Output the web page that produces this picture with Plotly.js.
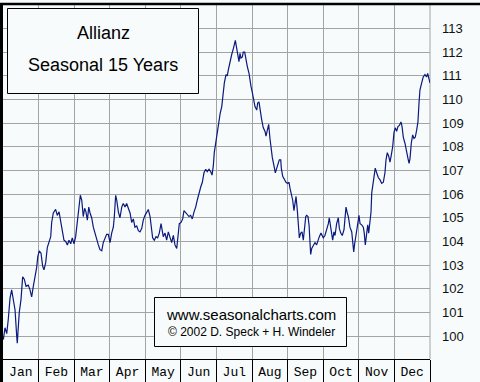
<!DOCTYPE html>
<html><head><meta charset="utf-8">
<script src="https://cdn.plot.ly/plotly-3.0.1.min.js"></script>
<style>html,body{margin:0;padding:0;background:#f7fbfb;}#chart{width:480px;height:382px;}</style>
</head><body><div id="chart"></div>
<script>
const months = ["Jan","Feb","Mar","Apr","May","Jun","Jul","Aug","Sep","Oct","Nov","Dec"];
const yTicks = [100,101,102,103,104,105,106,107,108,109,110,111,112,113];
const titleLines = ["Allianz", "Seasonal 15 Years"];
const creditLines = ["www.seasonalcharts.com", "© 2002 D. Speck + H. Windeler"];
const days = [0,0.3,1.7,3.2,4.5,6.0,7.4,8.8,10.3,11.7,12.2,13.9,15.4,16.8,18.2,19.7,21.6,23.1,24.5,25.9,27.4,28.8,29.7,31.0,32.5,33.9,35.0,36.5,37.9,39.6,40.8,41.6,43.0,45.0,46.4,47.9,49.3,50.7,52.1,53.6,55.0,56.4,57.9,59.2,60.7,62.1,63.5,65.0,66.1,67.3,68.6,69.8,70.9,72.1,73.3,74.4,75.8,77.2,78.6,80.1,81.5,82.9,84.4,85.7,87.2,88.6,90.0,91.5,92.9,94.3,95.1,96.3,97.2,98.6,100.0,101.5,102.8,104.3,105.7,107.1,108.6,110.0,111.4,112.8,114.3,115.7,117.1,118.6,119.9,121.4,122.8,124.2,125.7,127.1,127.9,129.3,130.8,132.2,133.6,135.1,135.9,137.0,138.5,139.9,141.3,142.8,144.2,145.6,147.0,148.5,149.6,150.7,152.2,153.6,154.7,156.2,157.5,159.0,160.4,161.8,163.3,164.7,166.1,167.5,169.0,170.4,171.8,173.3,174.6,176.1,177.5,178.7,179.8,180.6,182.1,183.2,184.7,185.6,187.0,187.8,189.2,190.6,191.7,192.6,194.0,195.5,196.9,197.7,198.6,199.8,200.6,201.7,202.6,203.4,204.6,205.4,206.6,207.7,208.8,210.3,211.1,212.0,213.1,214.0,215.4,216.9,217.7,218.8,219.7,221.1,222.5,224.0,224.8,225.9,227.1,228.2,229.1,230.2,231.6,232.8,234.0,235.1,236.2,237.4,237.9,239.1,240.5,241.9,243.4,244.5,245.3,246.4,247.6,248.7,249.6,250.5,251.6,252.4,253.3,254.5,255.6,256.7,257.6,258.8,259.6,260.7,261.6,262.4,263.0,263.9,265.2,266.7,268.1,269.2,270.4,271.8,272.9,273.8,275.2,276.7,278.1,278.9,280.1,280.9,281.8,282.9,283.8,285.2,286.6,287.5,288.7,290.0,291.5,292.3,293.2,294.3,295.2,296.6,298.1,298.9,299.8,300.6,301.7,302.8,304.3,305.2,306.6,308.0,308.8,309.7,310.9,311.8,312.6,313.7,314.6,315.2,316.0,317.4,318.2,319.4,320.8,322.3,323.7,325.1,326.5,327.4,328.5,329.7,330.8,331.9,333.1,334.2,335.3,336.5,337.6,338.8,340.2,341.1,342.2,343.6,345.1,346.2,347.1,347.9,349.0,350.2,351.3,352.4,353.6,354.7,355.6,356.4,357.9,359.2,360.7,362.1,363.0,364.1,365.0];
const values = [100.0,99.85,100.35,100.1,100.7,101.6,101.95,101.5,101.1,100.0,99.7,101.0,101.55,102.5,102.4,102.1,102.15,101.95,101.65,102.1,102.5,102.9,103.35,103.6,103.5,102.95,102.8,103.1,103.75,104.0,104.2,104.8,105.2,105.35,105.1,105.25,104.9,104.5,104.05,104.0,103.85,104.05,103.9,104.15,103.9,104.2,104.9,105.45,105.95,105.75,105.05,105.4,105.25,104.9,105.45,105.2,105.0,104.6,104.35,104.0,103.85,103.65,103.6,103.95,104.1,104.3,104.3,103.95,104.35,104.6,105.0,105.95,105.75,105.25,105.0,105.45,105.6,105.45,105.6,105.4,105.2,104.8,104.95,104.6,104.65,104.45,104.4,104.55,104.9,105.1,105.25,105.35,105.05,104.6,104.15,104.05,104.2,104.15,104.35,104.75,104.45,104.2,104.35,104.05,104.4,104.2,103.95,104.25,103.85,103.7,104.2,104.75,104.8,104.95,105.3,105.2,105.1,105.05,105.1,104.95,105.25,105.45,105.75,106.05,106.3,106.5,106.9,107.05,106.95,107.05,106.95,106.8,107.2,107.75,108.3,108.6,109.25,109.4,109.7,110.15,110.7,111.05,111.0,111.25,111.6,111.9,112.15,112.4,112.5,112.15,111.9,111.6,111.95,111.75,111.8,112.0,112.0,111.65,111.4,111.1,110.8,110.55,110.3,110.0,109.7,109.55,109.85,109.9,109.55,109.15,108.8,108.65,108.45,108.75,108.95,108.35,107.85,107.55,107.2,106.9,107.1,107.3,107.45,107.45,107.1,106.75,106.6,106.5,106.45,106.5,106.25,106.05,105.75,105.3,105.6,105.9,105.3,104.5,104.15,104.35,104.4,104.05,104.5,105.05,105.1,105.05,104.7,103.95,103.45,103.7,103.85,103.95,103.85,104.05,104.2,104.35,104.2,104.15,104.25,104.5,104.75,105.0,104.6,104.25,104.05,104.4,104.25,104.75,105.0,104.55,104.35,104.25,104.5,104.95,105.45,105.2,105.05,104.6,104.4,104.0,103.55,103.9,104.35,104.6,105.1,104.75,104.7,104.6,104.35,103.85,104.35,104.7,104.35,104.9,105.25,106.05,106.4,106.8,107.1,106.9,106.7,106.6,106.45,106.5,106.9,107.45,107.75,107.6,107.35,107.65,108.0,108.6,108.8,108.65,108.85,108.9,109.05,108.85,108.4,108.15,107.85,107.5,107.3,107.5,108.15,108.5,108.35,108.4,108.7,109.05,109.85,110.4,110.7,110.95,111.05,110.95,111.1,110.9,110.7];

const yearDays = 365;
const monthLen = yearDays / months.length;
const monthMids = months.map((m, i) => (i + 0.5) * monthLen);
const monthEdges = months.map((m, i) => (i + 1) * monthLen);

// pixel helpers for decoration placement (plot area: x 3..430, y 5..359)
const PL = 3, PR = 430, PT = 5, PB = 359;
const px = x => (x - PL) / (PR - PL);
const py = y => (PB - y) / (PB - PT);

const bg = '#f7fbfb';
const grid = '#a4a4a4';

const trace = {
  x: days, y: values, type: 'scatter', mode: 'lines',
  line: {color: '#0b1a7e', width: 1.2, shape: 'linear'},
  hoverinfo: 'skip'
};

const layout = {
  width: 480, height: 382,
  margin: {l: PL, r: 480 - PR, t: PT, b: 382 - PB, pad: 0},
  paper_bgcolor: bg, plot_bgcolor: bg,
  showlegend: false,
  xaxis: {
    range: [0, yearDays], fixedrange: true,
    tickmode: 'array', tickvals: monthMids, ticktext: months,
    ticks: '', showgrid: false, zeroline: false,
    showline: true, linecolor: '#000', linewidth: 1,
    tickfont: {family: 'Liberation Mono, DejaVu Sans Mono, monospace', size: 13, color: '#000'},
    ticklabelstandoff: 0,
    minor: {tickmode: 'array', tickvals: monthEdges, ticks: 'outside', ticklen: 23,
            tickcolor: '#000', tickwidth: 1, showgrid: true, gridcolor: grid, gridwidth: 1}
  },
  yaxis: {
    range: [99.028, 113.993], fixedrange: true, side: 'right',
    tickmode: 'array', tickvals: yTicks, ticktext: yTicks.map(String),
    ticks: '', showgrid: true, gridcolor: grid, gridwidth: 1, zeroline: false,
    showline: false,
    tickfont: {family: 'Liberation Sans, Arial, sans-serif', size: 13, color: '#111'},
    ticklabelstandoff: 11
  },
  shapes: [
    {type: 'line', xref: 'paper', yref: 'paper', x0: 1, x1: 1, y0: 0, y1: 1,
     line: {color: grid, width: 1}, layer: 'below'},
    {type: 'line', xref: 'paper', yref: 'paper', x0: px(0), x1: px(480), y0: py(4), y1: py(4),
     line: {color: '#000', width: 2.5}, layer: 'above'},
    {type: 'line', xref: 'paper', yref: 'paper', x0: px(1.5), x1: px(1.5), y0: py(382), y1: py(3),
     line: {color: '#000', width: 3}, layer: 'above'},
    {type: 'rect', xref: 'paper', yref: 'paper', x0: px(7.5), x1: px(198.5), y0: py(93.5), y1: py(8.5),
     line: {color: '#000', width: 1}, fillcolor: bg, layer: 'above'},
    {type: 'rect', xref: 'paper', yref: 'paper', x0: px(154.5), x1: px(346.5), y0: py(346.5), y1: py(297.5),
     line: {color: '#000', width: 1}, fillcolor: bg, layer: 'above'}
  ],
  annotations: [
    {text: titleLines[0], xref: 'paper', yref: 'paper', x: px(103), y: py(33), showarrow: false,
     xanchor: 'center', yanchor: 'middle', font: {family: 'Liberation Sans, Arial, sans-serif', size: 18, color: '#000'}},
    {text: titleLines[1], xref: 'paper', yref: 'paper', x: px(103), y: py(65), showarrow: false,
     xanchor: 'center', yanchor: 'middle', font: {family: 'Liberation Sans, Arial, sans-serif', size: 18, color: '#000'}},
    {text: creditLines[0], xref: 'paper', yref: 'paper', x: px(251), y: py(314), showarrow: false,
     xanchor: 'center', yanchor: 'middle', font: {family: 'Liberation Sans, Arial, sans-serif', size: 15, color: '#000'}},
    {text: creditLines[1], xref: 'paper', yref: 'paper', x: px(251), y: py(332), showarrow: false,
     xanchor: 'center', yanchor: 'middle', font: {family: 'Liberation Sans, Arial, sans-serif', size: 12, color: '#000'}}
  ]
};

Plotly.newPlot('chart', [trace], layout, {staticPlot: true, displayModeBar: false});
</script></body></html>
